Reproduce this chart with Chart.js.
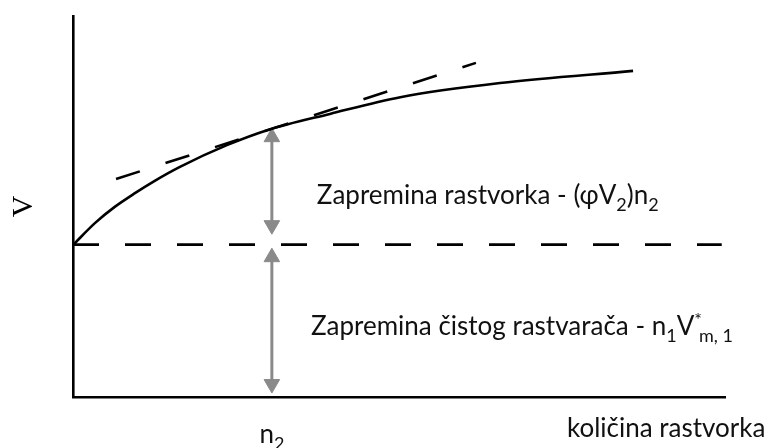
<!DOCTYPE html>
<html>
<head>
<meta charset="utf-8">
<script src="https://cdn.jsdelivr.net/npm/chart.js@4.4.1/dist/chart.umd.min.js"></script>
<style>
  html, body { margin: 0; padding: 0; background: #fff; }
  #wrap { width: 770px; height: 448px; }
</style>
</head>
<body>
<div id="wrap"><canvas id="chart"></canvas></div>
<script>
// ukupna zapremina V u zavisnosti od kolicine rastvorka (procitano sa slike)
var curveX = [0, 0.34, 0.64, 0.95, 1.26, 1.64, 2.36, 2.99, 3.94, 5.02, 6.55, 8.59];
var curveY = [3.99, 4.57, 4.99, 5.35, 5.68, 6.04, 6.61, 7.01, 7.43, 7.87, 8.24, 8.56];
// tangenta u tacki n2
var tangentX = [0.66, 6.18];
var tangentY = [5.72, 8.77];
// zapremina cistog rastvaraca (horizontalna isprekidana linija)
var solventX = [0, 9.95];
var solventY = [4.0, 4.0];
// strelice kod n2
var n2 = 3.05;
var upperArrowY = [4.51, 6.82];
var lowerArrowY = [0.34, 3.67];

var textFont = "Lato";
var textColor = "#111";
var textSize = 26;

function points(xs, ys) {
  var out = [];
  for (var i in xs) {
    out.push({ x: xs[i], y: ys[i] });
  }
  return out;
}

// crtanje teksta sa indeksima
function richText(ctx, parts, x, y, size, align) {
  var subSize = Math.round(size * 0.68);
  var total = 0;
  for (var i in parts) {
    var p = parts[i];
    ctx.font = (p.sub || p.sup ? subSize : size) + "px " + textFont;
    p.w = ctx.measureText(p.t).width;
    if (!p.stack) total += p.w;
  }
  var cx = align === "right" ? x - total : (align === "center" ? x - total / 2 : x);
  ctx.textBaseline = "alphabetic";
  ctx.textAlign = "left";
  ctx.fillStyle = textColor;
  var base = y + size * 0.36;
  for (var i in parts) {
    var p = parts[i];
    ctx.font = (p.sub || p.sup ? subSize : size) + "px " + textFont;
    var dy = p.sub ? size * 0.24 : (p.sup ? -size * 0.36 : 0);
    ctx.fillText(p.t, cx, base + dy);
    if (!p.stack) cx += p.w;
  }
}

var labelsPlugin = {
  id: "labels",
  afterDatasetsDraw: function (chart) {
    var ctx = chart.ctx;
    var xs = chart.scales.x;
    var ys = chart.scales.y;
    ctx.save();
    richText(ctx, [
      { t: "Zapremina rastvorka - (\u03c6V" }, { t: "2", sub: true }, { t: ")n" }, { t: "2", sub: true }
    ], xs.getPixelForValue(3.74), ys.getPixelForValue(5.30), textSize, "left");
    richText(ctx, [
      { t: "Zapremina \u010distog rastvara\u010da - n" }, { t: "1", sub: true }, { t: "V" },
      { t: "*", sup: true, stack: true }, { t: " m, 1", sub: true }
    ], xs.getPixelForValue(3.65), ys.getPixelForValue(1.86), textSize, "left");
    richText(ctx, [{ t: "koli\u010dina rastvorka" }],
      xs.getPixelForValue(10.62), ys.getPixelForValue(-0.81), textSize, "right");
    richText(ctx, [{ t: "n" }, { t: "2", sub: true }],
      xs.getPixelForValue(n2), ys.getPixelForValue(-0.97), textSize, "center");
    ctx.restore();
  }
};

var ctx = document.getElementById("chart");
var myChart = new Chart(ctx, {
  type: "line",
  data: {
    datasets: [
      {
        label: "V",
        data: points(curveX, curveY),
        borderColor: "#000",
        borderWidth: 2.6,
        pointRadius: 0,
        cubicInterpolationMode: "monotone",
        fill: false
      },
      {
        label: "tangenta",
        data: points(tangentX, tangentY),
        borderColor: "#000",
        borderWidth: 2.6,
        borderDash: [25, 27],
        pointRadius: 0
      },
      {
        label: "rastvarac",
        data: points(solventX, solventY),
        borderColor: "#000",
        borderWidth: 2.6,
        borderDash: [26, 26],
        pointRadius: 0
      },
      {
        label: "gornja strelica",
        data: points([n2, n2], upperArrowY),
        borderColor: "#8a8a8a",
        backgroundColor: "#8a8a8a",
        borderWidth: 3,
        pointStyle: "triangle",
        pointRadius: 9,
        pointBorderWidth: 1,
        pointRotation: [180, 0]
      },
      {
        label: "donja strelica",
        data: points([n2, n2], lowerArrowY),
        borderColor: "#8a8a8a",
        backgroundColor: "#8a8a8a",
        borderWidth: 3,
        pointStyle: "triangle",
        pointRadius: 9,
        pointBorderWidth: 1,
        pointRotation: [180, 0]
      }
    ]
  },
  options: {
    responsive: true,
    maintainAspectRatio: false,
    animation: false,
    layout: {
      padding: { left: 0, top: 16, right: 45, bottom: 51 }
    },
    plugins: {
      legend: { display: false },
      tooltip: { enabled: false }
    },
    scales: {
      x: {
        type: "linear",
        min: 0,
        max: 10,
        ticks: { display: false },
        grid: { display: false, drawTicks: false },
        border: { display: true, color: "#000", width: 2.6 }
      },
      y: {
        type: "linear",
        min: 0,
        max: 10,
        ticks: { display: false },
        grid: { display: false, drawTicks: false },
        border: { display: true, color: "#000", width: 2.6 },
        title: {
          display: true,
          text: "V",
          color: "#000",
          font: { family: "Liberation Serif", size: 30 },
          padding: { top: 6, bottom: 31 }
        }
      }
    }
  },
  plugins: [labelsPlugin]
});
</script>
</body>
</html>
